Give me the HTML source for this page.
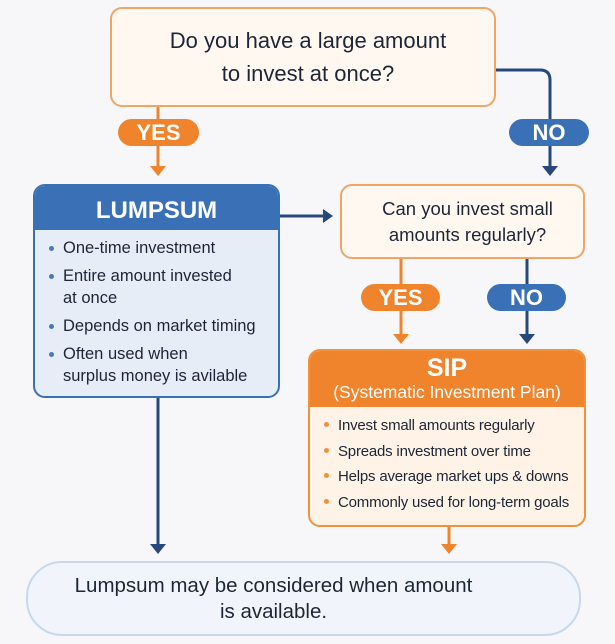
<!DOCTYPE html>
<html><head><meta charset="utf-8"><style>
body{margin:0;width:615px;height:644px;background:#f7f7f9;font-family:"Liberation Sans",sans-serif;position:relative;overflow:hidden;color:#1d2636}
.a{position:absolute;box-sizing:border-box}
.q{border:2px solid #eea566;background:#fff8f1;border-radius:12px;text-align:center}
.pill{border-radius:14px;color:#fff;font-weight:bold;font-size:22px;text-align:center;line-height:27px}
.o{background:#f0842c}.b{background:#3a70b5}
ul{margin:0;padding:0;list-style:none}
li{position:relative;padding-left:28px;white-space:nowrap}
li:before{content:"";position:absolute;left:14px;top:9px;width:5px;height:5px;border-radius:50%;background:#4a78b5}
.s li:before{background:#f0913d}
</style></head><body>
<svg class="a" style="left:0;top:0" width="615" height="644">
<g fill="none" stroke-width="3">
<path d="M158 107V168" stroke="#f0842c"/>
<path d="M495 70H540Q550 70 550 80V168" stroke="#26487a"/>
<path d="M280 216H325" stroke="#26487a"/>
<path d="M401 259V336" stroke="#f0842c"/>
<path d="M527 259V336" stroke="#26487a"/>
<path d="M158 398V546" stroke="#26487a"/>
<path d="M449 527V546" stroke="#f0842c"/>
</g>
<polygon points="150,166 166,166 158,176" fill="#f0842c"/>
<polygon points="542,166 558,166 550,176" fill="#26487a"/>
<polygon points="323,209 333,216 323,223" fill="#26487a"/>
<polygon points="393,334 409,334 401,344" fill="#f0842c"/>
<polygon points="519,334 535,334 527,344" fill="#26487a"/>
<polygon points="150,544 166,544 158,554" fill="#26487a"/>
<polygon points="441,544 457,544 449,554" fill="#f0842c"/>
</svg>
<div class="a q" style="left:110px;top:7px;width:386px;height:100px;font-size:22px;line-height:33px;padding-top:15px;padding-left:10px">Do you have a large amount<br>to invest at once?</div>
<div class="a pill o" style="left:118px;top:119px;width:81px">YES</div>
<div class="a pill b" style="left:509px;top:119px;width:80px">NO</div>
<div class="a" style="left:33px;top:184px;width:247px;height:214px;border:2px solid #3a70b5;border-radius:12px;background:#e6edf7;overflow:hidden">
<div style="background:#3a70b5;color:#fff;font-weight:bold;font-size:24px;height:44px;line-height:50px;text-align:center">LUMPSUM</div>
<ul style="font-size:16.5px;line-height:22px;padding-top:7px">
<li style="margin-bottom:6px">One-time investment</li>
<li style="margin-bottom:6px">Entire amount invested<br>at once</li>
<li style="margin-bottom:6px">Depends on market timing</li>
<li>Often used when<br>surplus money is avilable</li></ul></div>
<div class="a q" style="left:340px;top:184px;width:245px;height:75px;font-size:18.5px;line-height:26px;padding-top:10px;padding-left:10px">Can you invest small<br>amounts regularly?</div>
<div class="a pill o" style="left:361px;top:284px;width:79px">YES</div>
<div class="a pill b" style="left:487px;top:284px;width:79px">NO</div>
<div class="a s" style="left:308px;top:349px;width:278px;height:178px;border:2px solid #f0913d;border-radius:12px;background:#fff3e8;overflow:hidden">
<div style="background:#f0842c;color:#fff;text-align:center;height:56px"><div style="font-weight:bold;font-size:25px;line-height:28px;padding-top:3px">SIP</div><div style="font-size:17.5px;line-height:20px">(Systematic Investment Plan)</div></div>
<ul style="font-size:15px;line-height:25.5px;padding-top:6px;letter-spacing:-0.2px"><li>Invest small amounts regularly</li><li>Spreads investment over time</li><li>Helps average market ups &amp; downs</li><li>Commonly used for long-term goals</li></ul></div>
<div class="a" style="left:26px;top:561px;width:555px;height:75px;border:2px solid #c9d7ea;border-radius:36px;background:#f1f5fb;font-size:20.5px;line-height:26px;padding:10px 60px 0 0;text-align:center">Lumpsum may be considered when amount<br>is available.</div>
</body></html>
